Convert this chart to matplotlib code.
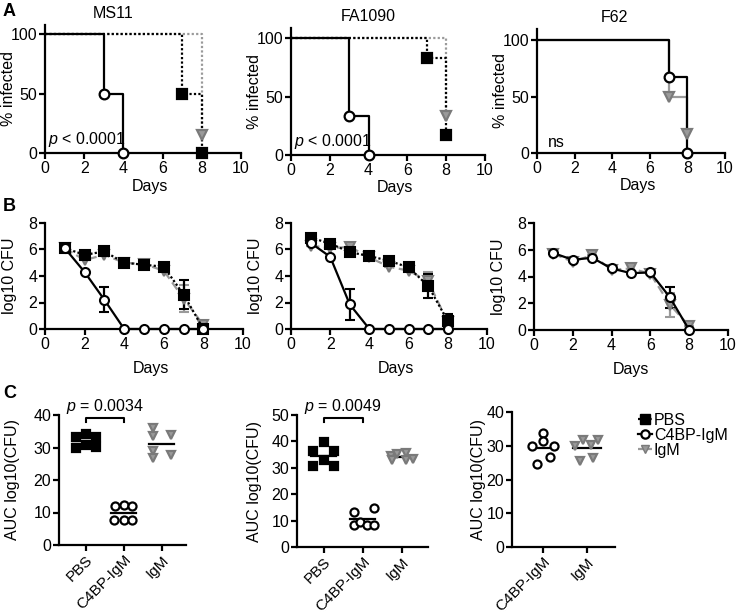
import matplotlib
matplotlib.use("Agg")
import matplotlib.pyplot as plt
from matplotlib.lines import Line2D
import numpy as np

plt.rcParams['font.family'] = ['Liberation Sans', 'DejaVu Sans']
plt.rcParams['mathtext.fontset'] = 'custom'
plt.rcParams['mathtext.it'] = 'Liberation Sans:italic'
plt.rcParams['mathtext.rm'] = 'Liberation Sans'
FS = 11.5
plt.rcParams['font.size'] = FS

# ---------------- DATA ----------------
strains = ["MS11", "FA1090", "F62"]
groups = ["PBS", "C4BP-IgM", "IgM"]

# Panel A: survival (% infected) step curves
surv_ms11_pbs_days = [0, 7, 8]
surv_ms11_pbs_vals = [100, 50, 0]
surv_ms11_c4bp_days = [0, 3, 4]
surv_ms11_c4bp_vals = [100, 50, 0]
surv_ms11_igm_days = [0, 8]
surv_ms11_igm_vals = [100, 15]

surv_fa_pbs_days = [0, 7, 8]
surv_fa_pbs_vals = [100, 83, 17]
surv_fa_c4bp_days = [0, 3, 4]
surv_fa_c4bp_vals = [100, 33, 0]
surv_fa_igm_days = [0, 8]
surv_fa_igm_vals = [100, 33]

surv_f62_c4bp_days = [0, 7, 8]
surv_f62_c4bp_vals = [100, 67, 0]
surv_f62_igm_days = [0, 7, 8]
surv_f62_igm_vals = [100, 50, 17]

pvals_A = ["$p$ < 0.0001", "$p$ < 0.0001", "ns"]

# Panel B: log10 CFU over days
days_B = [1, 2, 3, 4, 5, 6, 7, 8]
cfu_ms11_pbs = [6.1, 5.6, 5.85, 5.0, 4.85, 4.7, 2.6, 0.0]
cfu_ms11_pbs_err = [0, 0, 0, 0, 0, 0, 1.1, 0]
cfu_ms11_c4bp = [6.1, 4.3, 2.2, 0, 0, 0, 0, 0]
cfu_ms11_c4bp_err = [0, 0, 0.95, 0, 0, 0, 0, 0]
cfu_ms11_igm = [6.1, 5.2, 5.6, 5.0, 4.9, 4.4, 2.3, 0.3]
cfu_ms11_igm_err = [0, 0, 0, 0, 0, 0, 1.0, 0]

cfu_fa_pbs = [6.9, 6.45, 5.8, 5.5, 5.15, 4.65, 3.25, 0.6]
cfu_fa_pbs_err = [0, 0, 0, 0, 0, 0, 0.9, 0.5]
cfu_fa_c4bp = [6.5, 5.45, 1.85, 0, 0, 0, 0, 0]
cfu_fa_c4bp_err = [0, 0, 1.2, 0, 0, 0, 0, 0]
cfu_fa_igm = [6.3, 6.1, 6.2, 5.4, 4.7, 4.4, 3.6, 0.5]
cfu_fa_igm_err = [0, 0, 0, 0, 0, 0, 0.7, 0]

cfu_f62_c4bp = [5.75, 5.25, 5.4, 4.6, 4.25, 4.3, 2.45, 0.0]
cfu_f62_c4bp_err = [0, 0, 0, 0, 0, 0, 0.8, 0]
cfu_f62_igm = [5.7, 5.1, 5.6, 4.5, 4.6, 4.2, 1.9, 0.3]
cfu_f62_igm_err = [0, 0, 0, 0, 0.3, 0, 0.9, 0]

# Panel C: AUC log10(CFU), individual animals
auc_ms11_pbs = [33.3, 34.2, 33.3, 29.9, 30.9, 30.1]
auc_ms11_c4bp = [11.9, 12.4, 11.9, 7.7, 7.7, 7.7]
auc_ms11_igm = [35.9, 33.5, 28.9, 26.8, 33.8, 27.8]

auc_fa_pbs = [39.7, 36.2, 36.2, 32.9, 30.8, 30.8]
auc_fa_c4bp = [13.3, 14.6, 8.2, 9.5, 8.5, 8.5]
auc_fa_igm = [34.5, 35.3, 35.6, 32.8, 32.9, 33.5]

auc_f62_c4bp = [33.9, 29.8, 31.3, 29.8, 26.6, 24.6]
auc_f62_igm = [29.8, 31.7, 30.2, 31.7, 25.5, 26.3]

pvals_C = ["$p$ = 0.0034", "$p$ = 0.0049"]

# ---------------- LAYOUT / STYLE ----------------
# horizontal jitter (layout only)
jit_ms11_pbs = [-0.26, 0, 0.26, -0.26, 0, 0.26]
jit_ms11_c4bp = [-0.23, 0, 0.23, -0.25, 0, 0.23]
jit_ms11_igm = [-0.24, -0.24, -0.24, -0.24, 0.24, 0.24]
jit_fa_pbs = [0, -0.26, 0.26, 0, -0.26, 0.26]
jit_fa_c4bp = [-0.23, 0.29, -0.23, -0.08, 0.11, 0.29]
jit_fa_igm = [-0.28, -0.12, 0.1, -0.25, 0.1, 0.28]
jit_f62_c4bp = [0, -0.25, 0, 0.25, 0.15, -0.15]
jit_f62_igm = [-0.27, -0.09, 0.1, 0.27, -0.15, 0.15]

W, H = 738, 615
GRAY = '#9a9a9a'
GRAY_E = '#7a7a7a'
LW = 1.6

fig = plt.figure(figsize=(W / 100, H / 100), dpi=100)


def ax_px(x0, x1, ytop, ybot):
    return fig.add_axes([x0 / W, 1 - ybot / H, (x1 - x0) / W, (ybot - ytop) / H])


def style(ax):
    for s in ['top', 'right']:
        ax.spines[s].set_visible(False)
    for s in ['left', 'bottom']:
        ax.spines[s].set_linewidth(LW)
    ax.tick_params(direction='out', length=4, width=LW, labelsize=FS, pad=1.5)


sty = {
    'pbs': dict(color='black', ls=(0, (1, 1)), marker='s', mfc='black', mec='black'),
    'c4bp': dict(color='black', ls='-', marker='o', mfc='white', mec='black'),
    'igm': dict(color=GRAY, ls=(0, (1, 1)), marker='v', mfc=GRAY, mec=GRAY_E),
}

# ---------------- ROW A ----------------
A_boxes = [(45, 241, 24.5, 153, 108), (291, 485, 27.5, 155, 109), (537, 725, 29, 153, 110)]
A_title_x = [0.35, 0.40, 0.41]
A_data = [
    [('igm', surv_ms11_igm_days, surv_ms11_igm_vals),
     ('pbs', surv_ms11_pbs_days, surv_ms11_pbs_vals),
     ('c4bp', surv_ms11_c4bp_days, surv_ms11_c4bp_vals)],
    [('igm', surv_fa_igm_days, surv_fa_igm_vals),
     ('pbs', surv_fa_pbs_days, surv_fa_pbs_vals),
     ('c4bp', surv_fa_c4bp_days, surv_fa_c4bp_vals)],
    [('igm', surv_f62_igm_days, surv_f62_igm_vals),
     ('c4bp', surv_f62_c4bp_days, surv_f62_c4bp_vals)],
]
for i, (x0, x1, yt, yb, ytop) in enumerate(A_boxes):
    ax = ax_px(x0, x1, yt, yb)
    for key, d, v in A_data[i]:
        s = sty[key]
        lsA = '-' if (i == 2 and key == 'igm') else s['ls']
        ax.step(d, v, where='post', color=s['color'], ls=lsA, lw=LW, zorder=2)
        ax.plot(d[1:], v[1:], ls='none', marker=s['marker'], ms=7,
                mfc=s['mfc'], mec=s['mec'], mew=1.6, zorder=3, clip_on=False)
    ax.set_xlim(0, 10)
    ax.set_ylim(0, ytop)
    ax.set_xticks([0, 2, 4, 6, 8, 10])
    ax.set_yticks([0, 50, 100])
    ax.set_xlabel("Days", labelpad=1)
    ax.xaxis.set_label_coords(0.535, -0.2)
    ax.set_ylabel("% infected", labelpad=-3.5)
    ax.text(A_title_x[i], 1.0 + 11 / (yb - yt), strains[i], transform=ax.transAxes,
            ha='center', va='center', fontsize=FS)
    xt = 0.15 if i < 2 else 0.6
    ax.text(xt, 3, pvals_A[i], fontsize=FS, ha='left', va='bottom')
    style(ax)

# ---------------- ROW B ----------------
B_boxes = [(45, 243, 223, 329), (291, 487, 223, 329), (534, 728, 223, 330)]
B_data = [
    [('igm', cfu_ms11_igm, cfu_ms11_igm_err), ('pbs', cfu_ms11_pbs, cfu_ms11_pbs_err),
     ('c4bp', cfu_ms11_c4bp, cfu_ms11_c4bp_err)],
    [('igm', cfu_fa_igm, cfu_fa_igm_err), ('pbs', cfu_fa_pbs, cfu_fa_pbs_err),
     ('c4bp', cfu_fa_c4bp, cfu_fa_c4bp_err)],
    [('igm', cfu_f62_igm, cfu_f62_igm_err), ('c4bp', cfu_f62_c4bp, cfu_f62_c4bp_err)],
]
for i, (x0, x1, yt, yb) in enumerate(B_boxes):
    ax = ax_px(x0, x1, yt, yb)
    for key, vals, err in B_data[i]:
        s = sty[key]
        lsB = (0, (4, 2)) if key == 'igm' else s['ls']
        ecol = GRAY if key == 'igm' else 'black'
        ax.errorbar(days_B, vals, yerr=err, color=s['color'], ls=lsB, lw=LW,
                    marker=s['marker'], ms=6.5, mfc=s['mfc'], mec=s['mec'], mew=1.5,
                    ecolor=ecol, elinewidth=1.6, capsize=3.5, capthick=1.6,
                    zorder=3, clip_on=False)
    ax.set_xlim(0, 10)
    ax.set_ylim(0, 8)
    ax.set_xticks([0, 2, 4, 6, 8, 10])
    ax.set_yticks([0, 2, 4, 6, 8])
    ax.set_xlabel("Days", labelpad=5)
    if i < 2:
        ax.xaxis.set_label_coords(0.535, -0.3)
    else:
        ax.xaxis.set_label_coords(0.5, -0.3)
    ax.set_ylabel("log10 CFU", labelpad=8)
    style(ax)

# ---------------- ROW C ----------------
C_boxes = [(59, 186, 415, 545, (-0.7, 2.64), 40), (297, 428, 415, 547, (-0.68, 2.66), 50),
           (512, 615, 412, 547, (-0.72, 1.65), 40)]
C_ylabelpad = [10, 7, 0.5]
C_ms = {'pbs': 6.2, 'c4bp': 5.8, 'igm': 5.6}
C_data = [
    [('pbs', auc_ms11_pbs, jit_ms11_pbs), ('c4bp', auc_ms11_c4bp, jit_ms11_c4bp),
     ('igm', auc_ms11_igm, jit_ms11_igm)],
    [('pbs', auc_fa_pbs, jit_fa_pbs), ('c4bp', auc_fa_c4bp, jit_fa_c4bp),
     ('igm', auc_fa_igm, jit_fa_igm)],
    [('c4bp', auc_f62_c4bp, jit_f62_c4bp), ('igm', auc_f62_igm, jit_f62_igm)],
]
for i, (x0, x1, yt, yb, xl, ytop) in enumerate(C_boxes):
    ax = ax_px(x0, x1, yt, yb)
    labels = []
    for j, (key, vals, jit) in enumerate(C_data[i]):
        s = sty[key]
        xs = j + np.array(jit)
        ax.plot([j - 0.32, j + 0.32], [np.mean(vals)] * 2, color='black', lw=1.6, zorder=2)
        ax.plot(xs, vals, ls='none', marker=s['marker'], ms=C_ms[key], mfc=s['mfc'],
                mec=s['mec'], mew=1.6, zorder=3)
        labels.append({'pbs': 'PBS', 'c4bp': 'C4BP-IgM', 'igm': 'IgM'}[key])
    ax.set_xlim(*xl)
    ax.set_ylim(0, ytop)
    ax.set_xticks(range(len(labels)))
    ax.set_xticklabels(labels, rotation=45, ha='right', rotation_mode='anchor')
    ax.set_yticks(np.arange(0, ytop + 1, 10))
    ax.set_ylabel("AUC log10(CFU)", labelpad=C_ylabelpad[i])
    style(ax)
    ax.tick_params(axis='x', labelsize=11)
    if i < 2:
        yb_ = ytop * 0.98
        tip = ytop * 0.035
        ax.plot([0, 0, 1, 1], [yb_ - tip, yb_, yb_, yb_ - tip], color='black', lw=1.5,
                clip_on=False)
        ax.text(0.5, yb_ + ytop * 0.015, pvals_C[i], ha='center', va='bottom', fontsize=FS)

# legend
handles = [
    Line2D([], [], color='black', ls=(0, (1, 1)), lw=LW, marker='s', ms=6.5, mfc='black', mec='black'),
    Line2D([], [], color='black', ls='-', lw=LW, marker='o', ms=6, mfc='white', mec='black', mew=1.6),
    Line2D([], [], color=GRAY, ls=(0, (3, 1)), lw=LW, marker='v', ms=6, mfc=GRAY, mec=GRAY_E),
]
fig.legend(handles, ["PBS", "C4BP-IgM", "IgM"], loc='upper left',
           bbox_to_anchor=(630 / W, 1 - 405 / H), frameon=False, handlelength=0.9,
           handletextpad=0.1, labelspacing=0.0, borderpad=0, fontsize=FS)

# panel letters
for lab, (x, y) in zip("ABC", [(3, 3), (3, 198), (3, 385)]):
    fig.text(x / W, 1 - y / H, lab, fontsize=13, fontweight='bold', ha='left', va='top')

fig.savefig("out.png", dpi=100)
